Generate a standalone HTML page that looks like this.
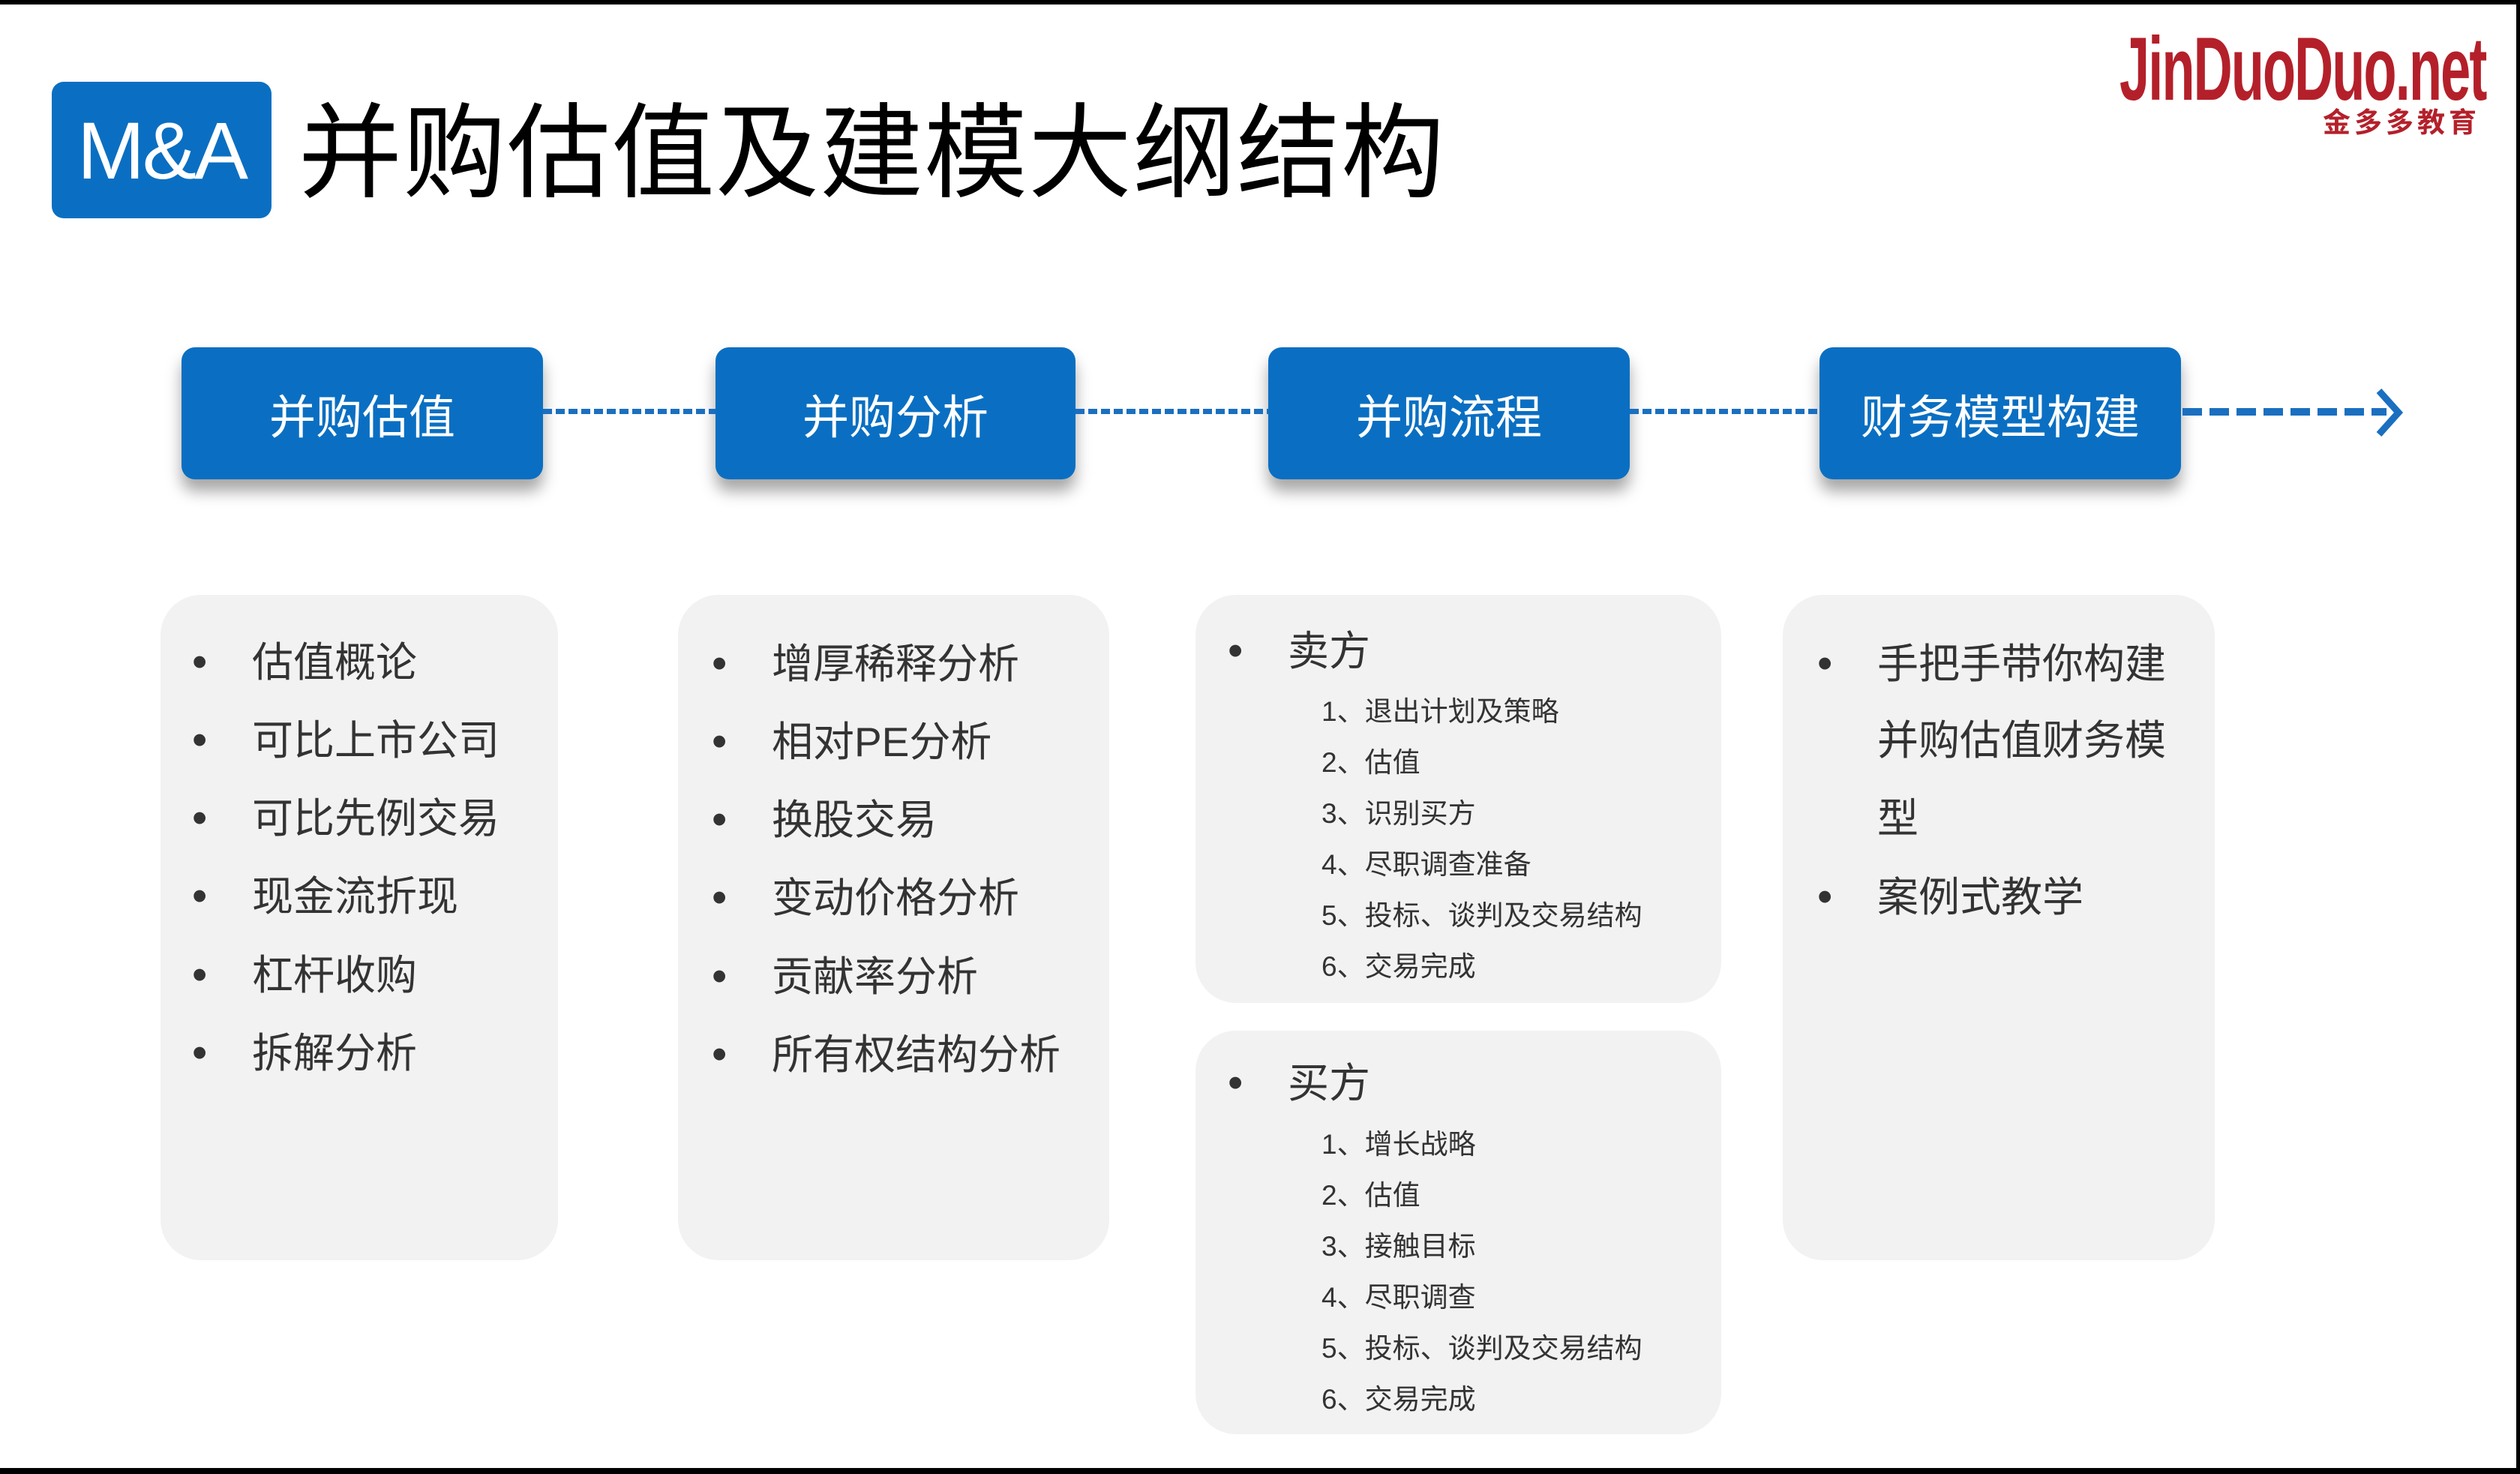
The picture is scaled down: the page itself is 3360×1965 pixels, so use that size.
<!DOCTYPE html>
<html><head><meta charset="utf-8"><style>
*{margin:0;padding:0;box-sizing:border-box}
body{width:3360px;height:1965px;background:#fff;position:relative;overflow:hidden;font-family:"Liberation Sans","Noto Sans CJK SC",sans-serif}
.a{position:absolute;white-space:nowrap}
.box{position:absolute;top:463px;height:176px;background:#0a6fc2;border-radius:18px;color:#fff;font-size:62px;display:flex;align-items:center;justify-content:center;box-shadow:0 16px 20px rgba(0,0,0,0.35)}
.dash{position:absolute;top:545px;height:7px;background:repeating-linear-gradient(90deg,#1a6fc0 0 12px,transparent 12px 17px)}
.p{position:absolute;background:#f2f2f2;border-radius:54px}
.li{position:absolute;font-size:55px;color:#333;line-height:70px;white-space:nowrap}
.li:before{content:"•";position:absolute;left:-80px;font-size:58px}
.sub{position:absolute;font-size:37px;color:#333;line-height:50px;white-space:nowrap}
</style></head><body>
<div class="a" style="left:0;top:0;width:3360px;height:6px;background:#000"></div>
<div class="a" style="left:0;top:1957px;width:3360px;height:8px;background:#000"></div>
<div class="a" style="left:3355px;top:0;width:5px;height:1965px;background:#000"></div>

<div class="a" style="left:69px;top:109px;width:293px;height:182px;background:#0a6fc2;border-radius:16px;color:#fff;font-size:108px;display:flex;align-items:center;justify-content:center;letter-spacing:-3px">M&amp;A</div>
<div class="a" style="left:398px;top:105px;font-size:138px;line-height:200px;color:#000;letter-spacing:1px">并购估值及建模大纲结构</div>

<div class="a" style="left:2826px;top:32px;color:#b4202a;font-weight:bold;font-size:120px;line-height:120px;transform:scaleX(0.6);transform-origin:left top;letter-spacing:-3px">JinDuoDuo.net</div>
<div class="a" style="left:3097px;top:144px;font-size:37px;line-height:40px;color:#b4202a;font-weight:bold;letter-spacing:5px">金多多教育</div>

<div class="box" style="left:242px;width:482px">并购估值</div>
<div class="box" style="left:954px;width:480px">并购分析</div>
<div class="box" style="left:1691px;width:482px">并购流程</div>
<div class="box" style="left:2426px;width:482px">财务模型构建</div>
<div class="dash" style="left:724px;width:230px"></div>
<div class="dash" style="left:1434px;width:257px"></div>
<div class="dash" style="left:2173px;width:253px"></div>
<div class="a" style="left:2910px;top:544px;width:272px;height:10px;background:repeating-linear-gradient(90deg,#1a6fc0 0 26px,transparent 26px 36px)"></div>
<svg class="a" style="left:3160px;top:515px" width="50" height="70"><polyline points="12,6 38,35 12,64" fill="none" stroke="#1a6fc0" stroke-width="9"/></svg>

<div class="p" style="left:214px;top:793px;width:530px;height:887px"></div>
<div class="p" style="left:904px;top:793px;width:575px;height:887px"></div>
<div class="p" style="left:1594px;top:793px;width:701px;height:544px"></div>
<div class="p" style="left:1594px;top:1374px;width:701px;height:538px"></div>
<div class="p" style="left:2377px;top:793px;width:576px;height:887px"></div>

<div class="li" style="left:336px;top:848px">估值概论</div>
<div class="li" style="left:336px;top:952px">可比上市公司</div>
<div class="li" style="left:336px;top:1056px">可比先例交易</div>
<div class="li" style="left:336px;top:1160px">现金流折现</div>
<div class="li" style="left:336px;top:1265px">杠杆收购</div>
<div class="li" style="left:336px;top:1369px">拆解分析</div>

<div class="li" style="left:1029px;top:850px">增厚稀释分析</div>
<div class="li" style="left:1029px;top:954px">相对PE分析</div>
<div class="li" style="left:1029px;top:1058px">换股交易</div>
<div class="li" style="left:1029px;top:1162px">变动价格分析</div>
<div class="li" style="left:1029px;top:1267px">贡献率分析</div>
<div class="li" style="left:1029px;top:1371px">所有权结构分析</div>

<div class="li" style="left:1717px;top:833px">卖方</div>
<div class="sub" style="left:1762px;top:924px">1、退出计划及策略</div>
<div class="sub" style="left:1762px;top:992px">2、估值</div>
<div class="sub" style="left:1762px;top:1060px">3、识别买方</div>
<div class="sub" style="left:1762px;top:1128px">4、尽职调查准备</div>
<div class="sub" style="left:1762px;top:1196px">5、投标、谈判及交易结构</div>
<div class="sub" style="left:1762px;top:1264px">6、交易完成</div>

<div class="li" style="left:1717px;top:1409px">买方</div>
<div class="sub" style="left:1762px;top:1501px">1、增长战略</div>
<div class="sub" style="left:1762px;top:1569px">2、估值</div>
<div class="sub" style="left:1762px;top:1637px">3、接触目标</div>
<div class="sub" style="left:1762px;top:1705px">4、尽职调查</div>
<div class="sub" style="left:1762px;top:1773px">5、投标、谈判及交易结构</div>
<div class="sub" style="left:1762px;top:1841px">6、交易完成</div>

<div class="li" style="left:2503px;top:850px">手把手带你构建</div>
<div class="a" style="left:2503px;top:952px;font-size:55px;line-height:70px;color:#333">并购估值财务模</div>
<div class="a" style="left:2503px;top:1056px;font-size:55px;line-height:70px;color:#333">型</div>
<div class="li" style="left:2503px;top:1161px">案例式教学</div>
</body></html>
